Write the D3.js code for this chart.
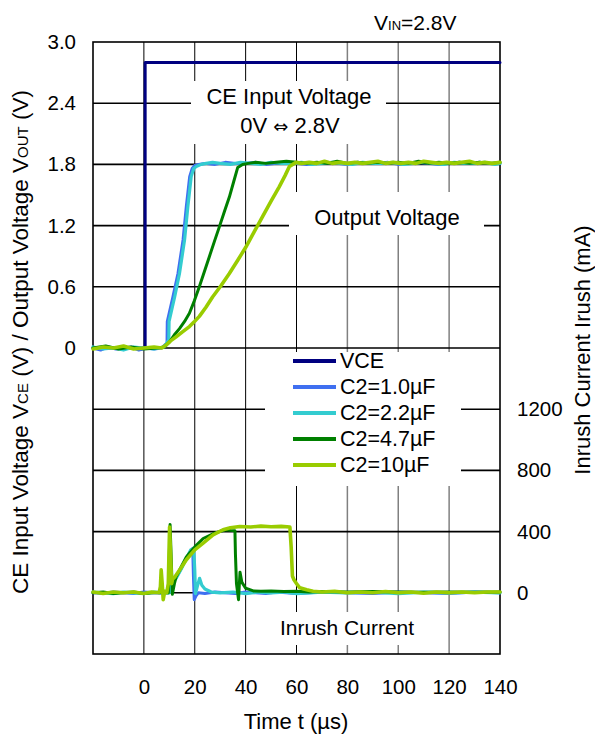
<!DOCTYPE html>
<html><head><meta charset="utf-8">
<script src="https://cdn.jsdelivr.net/npm/d3@7"></script>
<style>
body{margin:0;background:#fff;}
svg{font-family:"Liberation Sans",Arial,sans-serif;}
</style></head><body>
<svg id="chart" width="595" height="736"></svg>
<script>
// ---------- data ----------
const xTicks = [0,20,40,60,80,100,120,140];
const gridX = [0,20,40,60,80,100,120];
const leftTicks = [0,0.6,1.2,1.8,2.4,3.0];
const leftTickLabels = ["0","0.6","1.2","1.8","2.4","3.0"];
const gridY = [-2.4,-1.8,-1.2,-0.6,0,0.6,1.2,1.8,2.4];
const rightTicks = [0,400,800,1200];
const seriesNames = ["VCE","C2=1.0µF","C2=2.2µF","C2=4.7µF","C2=10µF"];
const seriesColors = ["#000080","#3F6FF0","#33CCD0","#008000","#99CC00"];

// CE input voltage (V)
const vce = [[-20,0],[0.5,0],[0.5,2.8],[140,2.8]];

// Output voltage (V)
const vout1 = [[-20,0.00],[-17,-0.02],[-14,0.01],[-11,-0.01],[-8,0.00],[-5,0.01],[-2,-0.02],[1,0.00],[4,-0.01],[7,0.00],[9.1,0.05],[9.2,0.26],[11.4,0.50],[13.4,0.73],[15.4,1.06],[16.7,1.39],[18.0,1.68],[19.0,1.76],[20.0,1.79],[21.5,1.80],[24,1.81],[28,1.80],[32,1.82],[36,1.81],[40,1.81],[44,1.82],[48,1.80],[52,1.81],[56,1.82],[60,1.81],[64,1.80],[68,1.81],[72,1.82],[76,1.81],[80,1.80],[84,1.82],[88,1.81],[92,1.81],[96,1.82],[100,1.80],[104,1.81],[108,1.82],[112,1.81],[116,1.80],[120,1.81],[124,1.82],[128,1.81],[132,1.82],[136,1.81],[140,1.81]];
const vout22 = [[-20,0.01],[-16,-0.01],[-12,0.00],[-8,-0.02],[-4,0.01],[0,0.00],[4,-0.01],[8,0.01],[9.8,0.08],[9.9,0.26],[12.1,0.50],[14.0,0.73],[16.0,1.06],[17.3,1.39],[18.6,1.68],[19.6,1.76],[20.6,1.78],[22.5,1.80],[24.5,1.81],[27,1.82],[30,1.81],[34,1.80],[38,1.82],[42,1.81],[46,1.80],[50,1.82],[54,1.81],[58,1.81],[62,1.82],[66,1.80],[70,1.81],[74,1.82],[78,1.81],[82,1.80],[86,1.82],[90,1.81],[94,1.81],[98,1.82],[102,1.80],[106,1.81],[110,1.82],[114,1.81],[118,1.80],[122,1.82],[126,1.81],[130,1.81],[134,1.82],[138,1.80],[140,1.81]];
const vout47 = [[-20,0.00],[-15,0.02],[-10,-0.01],[-5,0.01],[0,-0.01],[5,0.00],[8,0.01],[10.1,0.06],[12,0.13],[14,0.19],[16,0.26],[17.9,0.34],[19.8,0.46],[21.8,0.60],[23.8,0.75],[25.8,0.90],[27.8,1.05],[29.7,1.19],[31.7,1.34],[33.6,1.48],[35.3,1.63],[36.9,1.77],[38.8,1.80],[41,1.81],[44,1.82],[48,1.81],[52,1.82],[56,1.83],[60,1.82],[64,1.81],[68,1.82],[72,1.81],[76,1.83],[80,1.81],[84,1.82],[88,1.81],[92,1.82],[96,1.81],[100,1.82],[104,1.81],[108,1.83],[112,1.81],[116,1.82],[120,1.81],[124,1.82],[128,1.81],[132,1.82],[136,1.81],[140,1.82]];
const vout10 = [[-20,-0.01],[-16,0.01],[-12,0.00],[-8,0.02],[-4,-0.01],[0,0.00],[4,0.01],[7,0.00],[8.8,0.03],[10.5,0.07],[12.7,0.11],[15.3,0.16],[17.9,0.21],[19.9,0.26],[21.8,0.31],[24.4,0.40],[27.0,0.50],[30.3,0.61],[33.6,0.73],[36.9,0.86],[40.1,0.99],[43.4,1.14],[46.7,1.29],[50,1.44],[53.2,1.58],[55.5,1.69],[57.2,1.78],[59.8,1.82],[62,1.81],[65,1.82],[68,1.81],[71,1.83],[74,1.81],[77,1.82],[80,1.81],[83,1.82],[86,1.81],[89,1.82],[92,1.83],[95,1.81],[98,1.82],[101,1.81],[104,1.82],[107,1.81],[110,1.83],[113,1.82],[116,1.81],[119,1.82],[122,1.81],[125,1.82],[128,1.83],[131,1.81],[134,1.82],[137,1.81],[140,1.82]];

// Inrush current (mA)
const irush1 = [[-20,0],[-16,-5],[-12,5],[-8,0],[-4,-5],[0,5],[4,0],[8,-5],[9.8,0],[10.3,60],[12.7,100],[14.7,160],[16.7,225],[18.4,275],[19.2,290],[19.5,100],[19.8,-45],[20.5,-20],[21.4,0],[24,-5],[28,5],[32,0],[36,-5],[40,5],[44,0],[48,-5],[52,5],[56,0],[60,-5],[70,5],[80,0],[90,-5],[100,5],[110,0],[120,-5],[130,5],[140,0]];
const irush22 = [[-20,5],[-16,0],[-12,-5],[-8,5],[-4,0],[0,-5],[4,5],[8,0],[10.0,0],[10.5,60],[12.7,95],[14.7,155],[16.7,225],[18.4,280],[19.6,290],[20.0,150],[20.3,-5],[21.0,40],[21.9,95],[22.8,50],[24,25],[26.5,5],[30,0],[35,5],[40,-5],[45,5],[50,0],[55,5],[60,-5],[70,5],[80,0],[90,5],[100,-5],[110,5],[120,0],[130,5],[140,0]];
const irush47 = [[-20,0],[-16,5],[-12,-5],[-8,0],[-4,5],[0,-5],[4,0],[8,5],[9.6,0],[10.3,446],[10.7,250],[11.2,-10],[12,60],[12.7,105],[14.7,170],[16.7,235],[20,300],[23.3,355],[27.2,386],[30,402],[32.4,412],[34,408],[35.8,405],[36.0,250],[36.4,60],[37.2,-45],[37.8,135],[38.5,70],[40,30],[43,12],[46,10],[50,12],[55,8],[60,10],[65,5],[70,8],[80,5],[90,8],[100,5],[110,3],[120,6],[130,4],[140,5]];
const irush10 = [[-20,5],[-16,-5],[-12,5],[-8,0],[-4,5],[0,-5],[3,5],[6,0],[6.5,40],[6.8,150],[7.2,60],[7.6,-45],[8.2,10],[9.0,0],[9.6,60],[10.1,430],[10.5,250],[10.9,60],[11.3,90],[12,100],[12.7,117],[14.7,165],[16.7,216],[20,281],[23.3,325],[27.2,379],[31.1,412],[34,425],[37.7,433],[42,430],[46,436],[50,432],[54,434],[57.4,430],[57.9,300],[58.4,110],[59,85],[60,60],[61.3,33],[64,20],[66.5,10],[70,5],[75,10],[80,0],[85,5],[90,0],[95,8],[100,0],[105,5],[110,-3],[115,5],[120,0],[125,5],[130,0],[135,5],[140,5]];

// ---------- drawing ----------
const svg = d3.select("#chart");
const L = 93, R = 500, T = 42, B = 654;
const x = d3.scaleLinear().domain([-20,140]).range([L,R]);
const yV = d3.scaleLinear().domain([-3,3]).range([B,T]);
const yI = d3.scaleLinear().domain([-400,3600]).range([B,T]);

// grid
const g = svg.append("g");
g.selectAll("line.gx").data(gridX).join("line")
  .attr("x1", d=>x(d)).attr("x2", d=>x(d)).attr("y1", T).attr("y2", B)
  .attr("stroke", d=> d<=60 ? "#000" : "#808080").attr("stroke-width", d=> d<=60 ? 1 : 1.5);
g.selectAll("line.gy").data(gridY).join("line")
  .attr("x1", L).attr("x2", R).attr("y1", d=>yV(d)).attr("y2", d=>yV(d))
  .attr("stroke", "#000").attr("stroke-width", 1.6);

// label boxes (white backgrounds)
const boxes = [[191,81,195,63],[289,192,195,43],[265,352,196,134],[262,612,170,33]];
svg.selectAll("rect.box").data(boxes).join("rect")
  .attr("x", d=>d[0]).attr("y", d=>d[1]).attr("width", d=>d[2]).attr("height", d=>d[3])
  .attr("fill", "#fff");

// frame
svg.append("rect").attr("x", L).attr("y", T).attr("width", R-L).attr("height", B-T)
  .attr("fill", "none").attr("stroke", "#000").attr("stroke-width", 1.6);

// axes (labels)
const fs = "20.5px";
const ax = svg.append("g").attr("transform", `translate(0,${B})`)
  .call(d3.axisBottom(x).tickValues(xTicks).tickSize(0).tickPadding(25));
const ay = svg.append("g").attr("transform", `translate(${L},0)`)
  .call(d3.axisLeft(yV).tickValues(leftTicks).tickFormat((d,i)=>leftTickLabels[i]).tickSize(0).tickPadding(17));
const ar = svg.append("g").attr("transform", `translate(${R},0)`)
  .call(d3.axisRight(yI).tickValues(rightTicks).tickSize(0).tickPadding(17).tickFormat(d3.format("d")));
[ax,ay,ar].forEach(a=>{
  a.select(".domain").remove();
  a.selectAll("text").attr("font-size", fs).attr("fill","#000").attr("font-family","Liberation Sans, Arial, sans-serif");
});

// traces
const lineV = d3.line().x(d=>x(d[0])).y(d=>yV(d[1]));
const lineI = d3.line().x(d=>x(d[0])).y(d=>yI(d[1]));
const vSeries = [vce, vout1, vout22, vout47, vout10];
const iSeries = [null, irush1, irush22, irush47, irush10];
const widths = [3, 3, 3.2, 3, 3.6];
const tg = svg.append("g").attr("fill","none").attr("stroke-linejoin","round").attr("stroke-linecap","round");
vSeries.forEach((s,i)=>{
  tg.append("path").datum(s).attr("d", lineV).attr("stroke", seriesColors[i]).attr("stroke-width", widths[i]);
});
iSeries.forEach((s,i)=>{
  if(!s) return;
  tg.append("path").datum(s).attr("d", lineI).attr("stroke", seriesColors[i]).attr("stroke-width", widths[i]);
});

// annotations
const tf = 22;
svg.append("text").attr("x", 289).attr("y", 104).attr("text-anchor","middle").attr("font-size", tf).text("CE Input Voltage");
const ce2 = svg.append("text").attr("x", 290).attr("y", 133).attr("text-anchor","middle").attr("font-size", tf);
ce2.append("tspan").text("0V ");
ce2.append("tspan").attr("font-family","DejaVu Sans").attr("font-size", 18).text("\u21D4");
ce2.append("tspan").text(" 2.8V");
svg.append("text").attr("x", 387).attr("y", 225).attr("text-anchor","middle").attr("font-size", tf).text("Output Voltage");
svg.append("text").attr("x", 347).attr("y", 635).attr("text-anchor","middle").attr("font-size", 21).text("Inrush Current");

const vin = svg.append("text").attr("x", 374).attr("y", 30).attr("font-size", 21);
vin.append("tspan").text("V");
vin.append("tspan").attr("font-size", 13).text("IN");
vin.append("tspan").text("=2.8V");

// legend
const lg = svg.append("g");
seriesNames.forEach((n,i)=>{
  const yy = 368 + i*26;
  lg.append("line").attr("x1", 293).attr("x2", 336).attr("y1", yy-7).attr("y2", yy-7)
    .attr("stroke", seriesColors[i]).attr("stroke-width", 4);
  lg.append("text").attr("x", 340).attr("y", yy).attr("font-size", 21.5).text(n);
});

// axis titles
svg.append("text").attr("x", 296).attr("y", 729).attr("text-anchor","middle").attr("font-size", tf).text("Time t (µs)");

const lt = svg.append("text").attr("transform","translate(28,342) rotate(-90)").attr("text-anchor","middle").attr("font-size", 22.5);
lt.append("tspan").text("CE Input Voltage V");
lt.append("tspan").attr("font-size", 15).text("CE");
lt.append("tspan").text(" (V) / Output Voltage V");
lt.append("tspan").attr("font-size", 15).text("OUT");
lt.append("tspan").text(" (V)");

svg.append("text").attr("transform","translate(590,350) rotate(-90)").attr("text-anchor","middle").attr("font-size", 22).text("Inrush Current Irush (mA)");
</script>
</body></html>
